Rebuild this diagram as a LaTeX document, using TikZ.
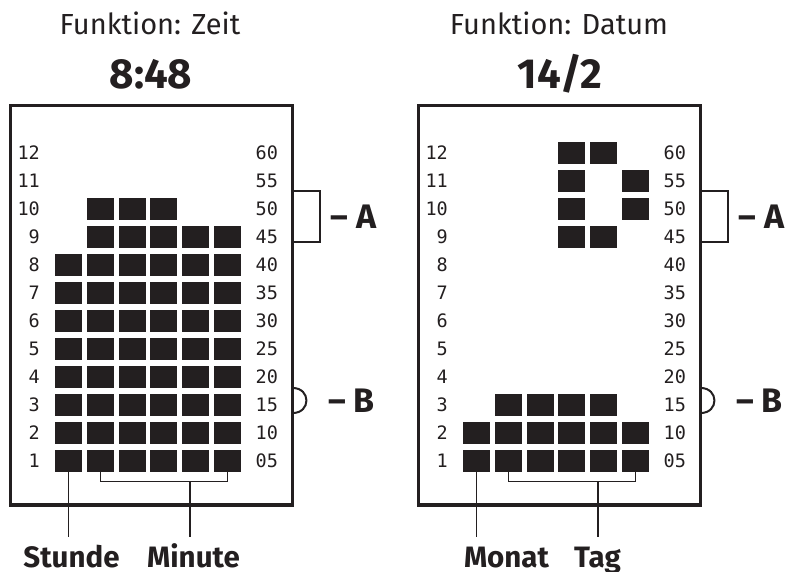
\documentclass[tikz,border=0pt]{standalone}
\usepackage{fontspec}
\setmainfont{Fira Sans}
\newfontfamily\segfont{DejaVu Sans Mono}
\definecolor{ink}{HTML}{231F20}
\newcommand\cellat[4]{\node[cellbox] (#1-#2-#3) at ({68.5+(#3-1)*31.8+#4},{461-(#2-1)*28}) {};}
\begin{document}
\begin{tikzpicture}[x=1pt,y=-1pt,
  cellbox/.style={fill=ink,draw=none,minimum width=27pt,minimum height=22pt,inner sep=0pt},
  rowlbl/.style={font=\segfont\fontsize{18.5}{18.5}\selectfont,text=ink,inner sep=0pt},
  framebox/.style={draw=ink,line width=3.4pt},
  thinline/.style={draw=ink,line width=1.3pt},
  midline/.style={draw=ink,line width=2pt},
  titletxt/.style={font=\fontsize{29}{29}\selectfont,text=ink,anchor=base,inner sep=0pt},
  bigtxt/.style={font=\bfseries\fontsize{42}{42}\selectfont,text=ink,anchor=base,inner sep=0pt},
  captxt/.style={font=\bfseries\fontsize{29.5}{29.5}\selectfont,text=ink,anchor=base,inner sep=0pt},
  marktxt/.style={font=\bfseries\fontsize{34}{34}\selectfont,text=ink,anchor=base,inner sep=0pt}
]
\useasboundingbox (0,0) rectangle (790,571);
\fill[white] (0,0) rectangle (790,571);

% titles
\node[titletxt] (tL) at (150,34) {Funktion: Zeit};
\node[bigtxt] (vL) at (151,88) {8:48};
\node[titletxt] (tR) at (559,34) {Funktion: Datum};
\node[bigtxt] (vR) at (560,88) {14/2};

% frames
\draw[framebox] (10.3,105.7) rectangle (292.7,505);
\draw[framebox] (418.3,105.7) rectangle (700.7,505);

% row labels
\foreach \ox in {0,408}{
  \foreach \r/\m in {1/05,2/10,3/15,4/20,5/25,6/30,7/35,8/40,9/45,10/50,11/55,12/60}{
    \node[rowlbl,anchor=east] (ll-\ox-\r) at ({40+\ox},{461-(\r-1)*28}) {\r};
    \node[rowlbl,anchor=west] (rl-\ox-\r) at ({255.5+\ox},{461-(\r-1)*28}) {\m};
  }
}

% left cells (8:48)
\foreach \r in {1,...,8}{\foreach \c in {1,...,6}{\cellat{L}{\r}{\c}{0}}}
\foreach \c in {2,...,6}{\cellat{L}{9}{\c}{0}}
\foreach \c in {2,3,4}{\cellat{L}{10}{\c}{0}}

% right cells (14/2)
\foreach \r in {1,2}{\foreach \c in {1,...,6}{\cellat{R}{\r}{\c}{408}}}
\foreach \c in {2,...,5}{\cellat{R}{3}{\c}{408}}
\foreach \r/\c in {12/4,12/5,11/4,11/6,10/4,10/6,9/4,9/5}{\cellat{R}{\r}{\c}{408}}

% bottom labels
\node[captxt] (stunde) at (71.5,567) {Stunde};
\node[captxt] (minute) at (193.5,567) {Minute};
\node[captxt] (monat) at (506.5,567) {Monat};
\node[captxt] (tag) at (597.5,567) {Tag};

% connectors left
\draw[thinline] (L-1-1.south) -- (L-1-1.south |- 0,537);
\draw[thinline] (L-1-2.south) -- ++(0,9) coordinate (bl1) -| (L-1-6.south);
\coordinate (stemL) at (190,481);
\draw[thinline] (stemL) -- (190,537);
% connectors right
\draw[thinline] (R-1-1.south) -- (R-1-1.south |- 0,537);
\draw[thinline] (R-1-2.south) -- ++(0,9) coordinate (br1) -| (R-1-6.south);
\coordinate (stemR) at (598,481);
\draw[thinline] (stemR) -- (598,537);

% A bracket and B bump
\foreach \ox/\p in {0/L,408/R}{
  \draw[midline] ({292.7+\ox},190.7) -- ({320+\ox},190.7) -- ({320+\ox},241.7) -- ({292.7+\ox},241.7);
  \draw[midline] ({292.7+\ox},388) .. controls ({311+\ox},388) and ({311+\ox},413) .. ({292.7+\ox},413);
  \node[marktxt] (A\p) at ({353.5+\ox},228) {– A};
  \node[marktxt] (B\p) at ({351.5+\ox},412) {– B};
}
\end{tikzpicture}
\end{document}
